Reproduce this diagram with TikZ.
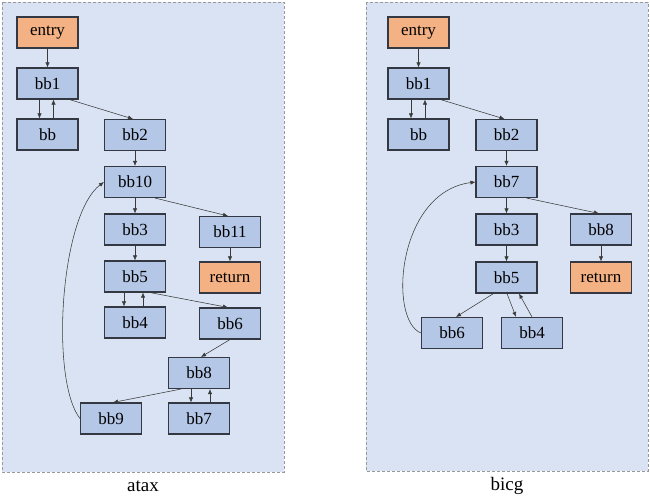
\documentclass[tikz,border=0pt]{standalone}
\usepackage{fontspec}
\setmainfont{Liberation Serif}
\usepackage{tikz}
\usetikzlibrary{arrows.meta,positioning,calc}
\usepackage{xcolor}
\definecolor{panelbg}{HTML}{DAE3F3}
\definecolor{blockbl}{HTML}{B4C7E7}
\definecolor{termor}{HTML}{F4B183}
\definecolor{blockrim}{HTML}{333842}
\definecolor{edgegr}{HTML}{3A3A3A}

\begin{document}
\begin{tikzpicture}[x=1pt,y=-1pt,
      ar/.style={-{Latex[length=5pt,width=4.2pt]},draw=edgegr,line width=0.55pt},
      pan/.style={fill=panelbg,draw=gray!80,line width=0.9pt,dash pattern=on 3pt off 2pt},
      bk/.style={rectangle,draw=blockrim,fill=blockbl,line width=1.1pt,
                 minimum width=61pt,minimum height=31pt,inner sep=0pt,
                 font=\fontsize{17}{20}\selectfont},
      tm/.style={bk,fill=termor},
      pcap/.style={font=\fontsize{19}{22}\selectfont}]

    \useasboundingbox (0,0) rectangle (650,497);

    % ================= panels =================
    \draw[pan] (2,2) rectangle (284,472);
    \draw[pan] (366,2) rectangle (648,471);
    \node[pcap] (capA) at (143,486) {atax};
    \node[pcap] (capB) at (507,486) {bicg};

    % ================= atax =================
    \node[tm] (aentry) at (47.5,32.5) {entry};
    \node[bk] (abb1)   at (47.5,83.5) {bb1};
    \node[bk] (abb)    at (47.5,134.5) {bb};
    \node[bk] (abb2)   at (135,135) {bb2};
    \node[bk] (abb10)  at (135,182) {bb10};
    \node[bk] (abb3)   at (135,229.5) {bb3};
    \node[bk] (abb11)  at (230,232) {bb11};
    \node[bk] (abb5)   at (135,276.5) {bb5};
    \node[tm] (aret)   at (230,277.5) {return};
    \node[bk] (abb4)   at (135,322.5) {bb4};
    \node[bk] (abb6)   at (230,323.5) {bb6};
    \node[bk] (abb8)   at (199,373) {bb8};
    \node[bk] (abb9)   at (111,418.5) {bb9};
    \node[bk] (abb7)   at (199,418.5) {bb7};

    \draw[ar] (aentry.south) -- (abb1.north);
    \draw[ar] ([xshift=-8pt]abb1.south) -- ([xshift=-8pt]abb.north);
    \draw[ar] ([xshift=6pt]abb.north) -- ([xshift=6pt]abb1.south);
    \draw[ar] ([xshift=22pt]abb1.south) -- ([xshift=-2pt]abb2.north);
    \draw[ar] (abb2.south) -- (abb10.north);
    \draw[ar] (abb10.south) -- (abb3.north);
    \draw[ar] ([xshift=20pt]abb10.south) -- ([xshift=-2pt]abb11.north);
    \draw[ar] (abb3.south) -- (abb5.north);
    \draw[ar] (abb11.south) -- (aret.north);
    \draw[ar] ([xshift=-11pt]abb5.south) -- ([xshift=-11pt]abb4.north);
    \draw[ar] ([xshift=8pt]abb4.north) -- ([xshift=8pt]abb5.south);
    \draw[ar] ([xshift=15pt]abb5.south) -- ([xshift=-2pt]abb6.north);
    \draw[ar] (abb6.south) -- ([xshift=2pt]abb8.north);
    \draw[ar] ([xshift=-18pt]abb8.south) -- ([xshift=2pt]abb9.north);
    \draw[ar] ([xshift=-8pt]abb8.south) -- ([xshift=-8pt]abb7.north);
    \draw[ar] ([xshift=11pt]abb7.north) -- ([xshift=11pt]abb8.south);
    \draw[ar] (abb9.west) .. controls (50,380) and (60,215) .. (abb10.west);

    % ================= bicg =================
    \node[tm] (bentry) at (418.5,32.5) {entry};
    \node[bk] (bbb1)   at (418.5,83.5) {bb1};
    \node[bk] (bbb)    at (418.5,134.5) {bb};
    \node[bk] (bbb2)   at (506.5,135) {bb2};
    \node[bk] (bbb7)   at (506.5,182) {bb7};
    \node[bk] (bbb3)   at (506.5,229.5) {bb3};
    \node[bk] (bbb8)   at (601,229.5) {bb8};
    \node[bk] (bbb5)   at (506.5,277.5) {bb5};
    \node[tm] (bret)   at (601,277.5) {return};
    \node[bk] (bbb6)   at (452,333) {bb6};
    \node[bk] (bbb4)   at (532,333) {bb4};

    \draw[ar] (bentry.south) -- (bbb1.north);
    \draw[ar] ([xshift=-7.5pt]bbb1.south) -- ([xshift=-7.5pt]bbb.north);
    \draw[ar] ([xshift=6.5pt]bbb.north) -- ([xshift=6.5pt]bbb1.south);
    \draw[ar] ([xshift=22pt]bbb1.south) -- ([xshift=-2pt]bbb2.north);
    \draw[ar] (bbb2.south) -- (bbb7.north);
    \draw[ar] (bbb7.south) -- (bbb3.north);
    \draw[ar] ([xshift=20pt]bbb7.south) -- ([xshift=-2pt]bbb8.north);
    \draw[ar] (bbb3.south) -- (bbb5.north);
    \draw[ar] (bbb8.south) -- (bret.north);
    \draw[ar] ([xshift=-13pt]bbb5.south) -- ([xshift=4pt]bbb6.north);
    \draw[ar] ([xshift=0.5pt]bbb5.south) -- ([xshift=-16pt]bbb4.north);
    \draw[ar] (bbb4.north) -- ([xshift=12.5pt]bbb5.south);
    \draw[ar] (bbb6.west) .. controls (388,320) and (397,192) .. (bbb7.west);
  \end{tikzpicture}
\end{document}
